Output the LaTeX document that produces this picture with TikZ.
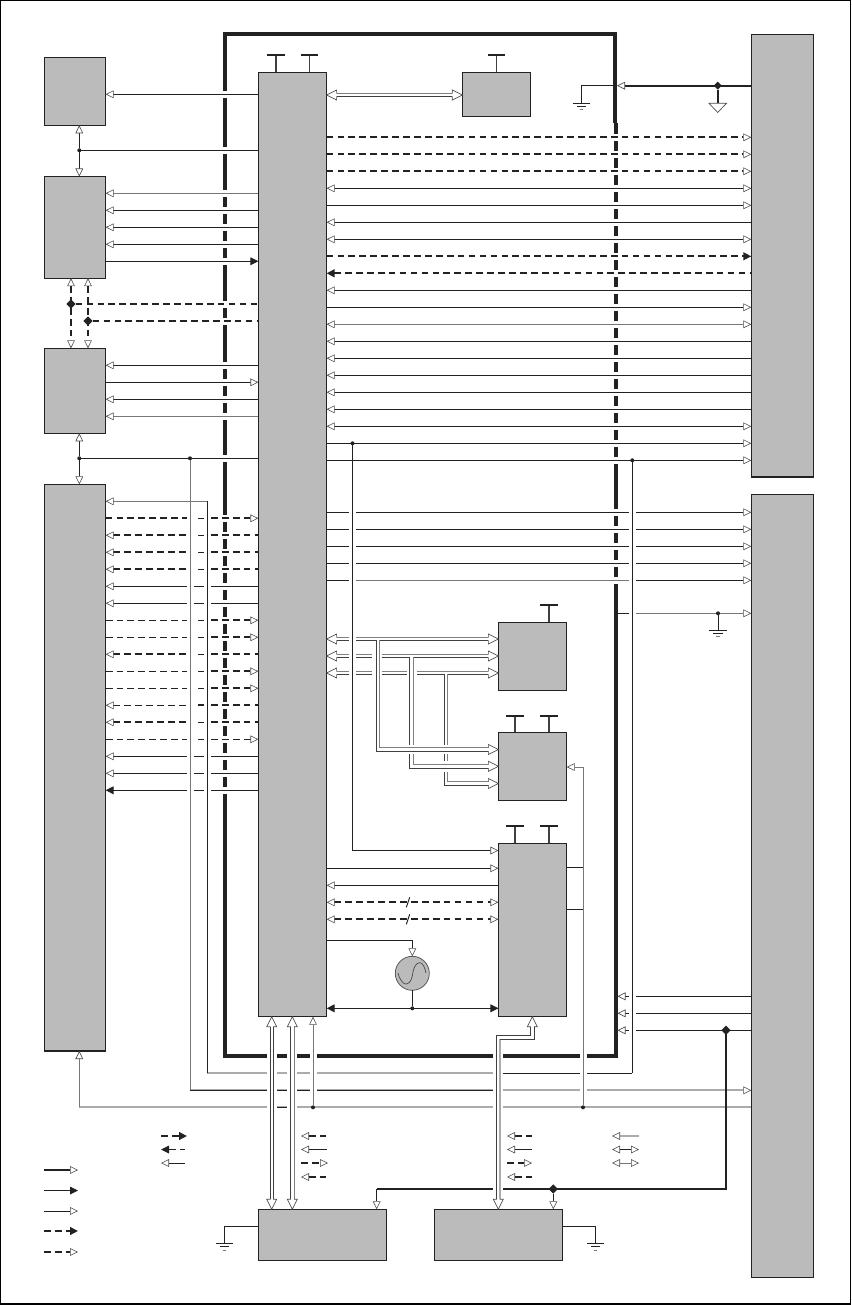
\documentclass[tikz,border=0pt]{standalone}
\usetikzlibrary{arrows.meta,shapes.geometric}
\definecolor{ink}{HTML}{222222}
\definecolor{boxgray}{HTML}{BBBBBB}
\definecolor{midg}{HTML}{777777}
\definecolor{ligg}{HTML}{ABABAB}
\tikzset{
 op/.tip={Triangle[open,fill=white,length=6pt,width=5.8pt,line width=.45pt,color=black!70]},
 fp/.tip={Triangle[length=6pt,width=5.8pt,color=ink]},
 blk/.style={draw=ink,fill=boxgray,line width=.8pt,inner sep=0pt,outer sep=0pt,rectangle},
 sl/.style={draw=ink,line width=.72pt},
 thk/.style={draw=ink,line width=1.5pt},
 gl/.style={draw=midg,line width=.75pt},
 gt/.style={draw=ligg,line width=1.5pt},
 dk/.style={draw=ink,line width=1.5pt,dash pattern=on 5pt off 3.2pt},
 dn/.style={draw=ink,line width=.7pt,dash pattern=on 5.2pt off 3pt},
 frame/.style={draw=ink,line width=3pt,miter limit=10},
 dbd/.style={draw=black!75,line width=.72pt},
 dbg/.style={draw=black!50,line width=.72pt},
 dot/.style={circle,fill=ink,inner sep=0pt,minimum size=3pt,outer sep=0pt},
 diam/.style={diamond,fill=ink,inner sep=0pt,minimum size=7pt,outer sep=0pt},
 knock/.style={fill=white,draw=none},
 bighead/.pic={\fill[white] (0,0)--(-10,5)--(-10,-5)--cycle;
   \draw[draw=black!70,line width=.5pt,line join=miter] (-10,1.7)--(-10,5)--(0,0)--(-10,-5)--(-10,-1.7);}
}
\newcommand\Rrow[3]{\draw[#2,#3] (core.east|-0,#1.3) -- (K.west|-0,#1.3);}
\newcommand\Lrow[4]{\draw[#3,#4] (#2.east|-0,#1.3) -- (core.west|-0,#1.3);}
\newcommand\Srow[2]{\draw[#2,-{op}] (core.east|-0,#1.3) -- (L.west|-0,#1.3);}
\newcommand\Drow[6]{\draw[#2,#5] (D.east|-0,#1.3) -- (187,#1.3);
  \draw[#3] (187,#1.3) -- (211,#1.3);
  \draw[#4,#6] (211,#1.3) -- (core.west|-0,#1.3);}
\newcommand\teebar[4]{\coordinate (#1) at (#3,#4);
  \draw[draw=black!75,line width=1pt] (#2.north-|#1) -- (#1);
  \draw[draw=ink,line width=1pt] ([xshift=-6.4pt]#1) -- ([xshift=6.4pt]#1);}
\newcommand\gnd[1]{\draw[draw=ink,line width=.7pt] ([xshift=-6.4pt]#1) -- ([xshift=6.4pt]#1);
  \draw[draw=ink,line width=.6pt] ([xshift=-3.4pt,yshift=-2.5pt]#1) -- ([xshift=3.4pt,yshift=-2.5pt]#1);
  \draw[draw=midg,line width=.6pt] ([xshift=-1.2pt,yshift=-4.9pt]#1) -- ([xshift=1.2pt,yshift=-4.9pt]#1);}
\newcommand\leg[6]{\coordinate (#1a) at (#2,#4);\coordinate (#1b) at (#3,#4);\draw[#5,#6] (#1a) -- (#1b);}
\newcommand\kn[4]{\fill[knock] (#1,#2) rectangle (#3,#4);}
\newcommand\bx[5]{\node[minimum width=#4*.75pt-#2*.75pt,minimum height=#5*.75pt-#3*.75pt,anchor=north west,blk] (#1) at (#2,#3) {};}
\begin{document}
\begin{tikzpicture}[x=.75pt,y=-.75pt]
\useasboundingbox (0,0) rectangle (851,1305);
\draw[draw=black,line width=1pt] (.6,.6) rectangle (850.5,1304);
% frame
\draw[frame] (616,123) -- (616,1056) -- (224.5,1056) -- (224.5,34.5) -- (615.3,34.5) -- (615.3,123);
\foreach \y in {94,150,193,210,227,244,261,304,321,365,382,399,416,458,518,535,552,569,586,603,620,637,654,671,688,705,722,739,756,773,790}
  \fill[knock] (220,\y+.3-3.5) rectangle (229,\y+.3+3.5);
\foreach \y in {137,154,171,188,205,222,239,256,273,290,307,324,341,358,375,392,409,426,443,460,512,529,546,563,580}
  \fill[knock] (611,\y+.3-3.5) rectangle (621,\y+.3+3.5);
% boxes
\bx{A}{44.3}{57.3}{105.6}{125.3}
\bx{B}{44.3}{176.5}{105.6}{278.2}
\bx{C}{44.3}{348.3}{105.6}{433.3}
\bx{D}{44.3}{484.3}{105.6}{1051}
\bx{core}{258.4}{72.3}{326.6}{1016.7}
\bx{E}{462.3}{72.3}{530.7}{116.7}
\bx{F}{498.4}{622.3}{566.7}{690.3}
\bx{G}{498.4}{732.3}{566.7}{800.3}
\bx{H}{498.4}{843.3}{566.7}{1016.7}
\bx{I}{258.4}{1209.3}{386.7}{1260.3}
\bx{J}{434.3}{1209.3}{562.7}{1260.3}
\bx{K}{751.3}{34.3}{813.3}{477}
\bx{L}{751.3}{494.3}{813.3}{1277.3}
\node[circle,draw=black!65,fill=boxgray,line width=.6pt,minimum size=25.5pt,inner sep=0pt,outer sep=0pt] (osc) at (412.3,973.3) {};
\draw[draw=black!70,line width=.55pt] (398,973) .. controls (400,981) and (404,984.5) .. (406.5,984) .. controls (411,983) and (412,978) .. (413,972) .. controls (414,966) and (417,962.5) .. (420,962.7) .. controls (423,963) and (425,968) .. (426,973);
% tees
\teebar{t1}{core}{276}{55}
\teebar{t2}{core}{309.7}{55}
\teebar{t3}{E}{496.3}{55}
\teebar{t4}{F}{549}{605}
\teebar{t5}{G}{515}{716}
\teebar{t6}{G}{549}{716}
\teebar{t7}{H}{515}{826}
\teebar{t8}{H}{549}{826}
% right top rows
\foreach \y in {137,154,171} {\Rrow{\y}{dk}{-{op}}}
\Rrow{188}{sl}{{op}-{op}}
\Rrow{205}{sl}{-{op}}
\Rrow{222}{sl}{{op}-}
\Rrow{239}{sl}{{op}-{op}}
\Rrow{256}{dk}{-{fp}}
\Rrow{273}{dk}{{fp}-}
\Rrow{290}{sl}{{op}-}
\Rrow{307}{sl}{-{op}}
\Rrow{324}{gl}{{op}-{op}}
\foreach \y in {341,358,375,392,409} {\Rrow{\y}{sl}{{op}-}}
\Rrow{426}{sl}{{op}-{op}}
\Rrow{443}{sl}{-{op}}
\Rrow{460}{sl}{-{op}}
\foreach \y in {512,529,546,563,580} {\Srow{\y}{sl}}
\draw[gl] (355,580.3) -- (629,580.3);
% top ground feed
\coordinate (ftip) at (617,85.7);
\coordinate (g1) at (581.3,103);
\coordinate (g2) at (717.7,103);
\draw[thk,{op}-] (ftip) -- (K.west|-ftip);
\draw[sl] (ftip) -| (g1);
\gnd{g1}
\node[diam,minimum size=6pt] (j717) at (717.7,85.7) {};
\draw[thk] (j717) -- (g2);
\draw[draw=black!70,line width=.5pt,fill=white] (709,103.3) -- (726.5,103.3) -- (717.7,112.5) -- cycle;
% row 613
\coordinate (s613) at (617,613.3);
\coordinate (g3) at (718,630);
\draw[sl] (s613) -- (630,613.3);
\draw[gl,-{op}] (630,613.3) -- (L.west|-s613);
\node[dot] (j613) at (718,613.3) {};
\draw[sl] (j613) -- (g3);
\gnd{g3}
% left rows
\draw[sl,{op}-] (A.east|-0,94.3) -- (core.west|-0,94.3);
\node[dot] (j150) at (79.3,150.3) {};
\draw[sl] (j150) -- (core.west|-j150);
\draw[sl,-{op}] (j150) -- (A.south-|j150);
\draw[sl,-{op}] (j150) -- (B.north-|j150);
\Lrow{193}{B}{gl}{{op}-}
\Lrow{210}{B}{sl}{{op}-}
\Lrow{227}{B}{sl}{{op}-}
\Lrow{244}{B}{sl}{{op}-}
\Lrow{261}{B}{sl}{-{fp}}
\node[diam] (j304) at (71,304) {};
\node[diam] (j321) at (88,321) {};
\draw[dk] (j304) -- (core.west|-j304);
\draw[dk] (j321) -- (core.west|-j321);
\draw[dk,{op}-{op}] (B.south-|j304) -- (C.north-|j304);
\draw[dk,{op}-{op}] (B.south-|j321) -- (C.north-|j321);
\Lrow{365}{C}{sl}{{op}-}
\Lrow{382}{C}{sl}{-{op}}
\Lrow{399}{C}{sl}{{op}-}
\Lrow{416}{C}{gl}{{op}-}
\node[dot] (j458) at (79.3,458.3) {};
\draw[sl] (j458) -- (core.west|-j458);
\draw[sl,-{op}] (j458) -- (C.south-|j458);
\draw[sl,-{op}] (j458) -- (D.north-|j458);
% D rows
\Drow{518}{dk}{dn}{dk}{}{-{op}}
\Drow{535}{dk}{dn}{dk}{{op}-}{}
\Drow{552}{dk}{dn}{dk}{{op}-}{}
\Drow{569}{dk}{dn}{dk}{{op}-}{}
\Drow{586}{sl}{sl}{sl}{{op}-}{}
\Drow{603}{sl}{sl}{sl}{{op}-}{}
\Drow{620}{dn}{dn}{dk}{}{-{op}}
\Drow{637}{dn}{dn}{dk}{}{-{op}}
\Drow{654}{dk}{dn}{dk}{{op}-}{}
\Drow{671}{dn}{dn}{dk}{}{-{op}}
\Drow{688}{dn}{dn}{dk}{}{-{op}}
\Drow{705}{dn}{dk}{dk}{{op}-}{}
\Drow{722}{dk}{dn}{dk}{{op}-}{}
\Drow{739}{dn}{dn}{dn}{}{-{op}}
\Drow{756}{sl}{sl}{sl}{{op}-}{}
\Drow{773}{sl}{sl}{sl}{{op}-}{}
\Drow{790}{sl}{sl}{sl}{{fp}-}{}
% H rows
\draw[sl,-{op}] (core.east|-0,868.3) -- (H.west|-0,868.3);
\draw[sl,{op}-] (core.east|-0,885.3) -- (H.west|-0,885.3);
\draw[dk,{op}-{op}] (core.east|-0,902.3) -- (H.west|-0,902.3);
\draw[dk,{op}-{op}] (core.east|-0,919.3) -- (H.west|-0,919.3);
\coordinate (s1a) at (406.3,907.3);\coordinate (s1b) at (409.7,897.3);
\coordinate (s2a) at (406.3,924.3);\coordinate (s2b) at (409.7,914.3);
\draw[sl] (s1a) -- (s1b);
\draw[sl] (s2a) -- (s2b);
\draw[sl,-{op}] (core.east|-0,940.5) -| (osc.north);
\node[dot] (j412) at (412.3,1008.3) {};
\draw[sl,{fp}-{fp}] (core.east|-j412) -- (H.west|-j412);
\draw[sl] (osc.south) -- (j412);
% right lower tips
\coordinate (fr) at (617.5,0);
\draw[sl,{op}-] (fr|-0,996.3) -- (L.west|-0,996.3);
\draw[sl,{op}-] (fr|-0,1013.3) -- (L.west|-0,1013.3);
\draw[sl,{op}-] (fr|-0,1030.3) -- (L.west|-0,1030.3);
% double rows core-E and core-F
\draw[dbg] (335,93.3) -- (453,93.3);
\draw[dbd] (335,96.3) -- (453,96.3);
\draw[dbg] (335,637.3) -- (489,637.3);
\draw[dbd] (335,640.3) -- (376,640.3);
\draw[dbd] (379,640.3) -- (489,640.3);
\draw[dbg] (335,654.3) -- (489,654.3);
\draw[dbd] (335,657.3) -- (409.3,657.3);
\draw[dbd] (413,657.3) -- (489,657.3);
\draw[dbg] (335,671.3) -- (489,671.3);
\draw[dbd] (335,674.3) -- (444,674.3);
\draw[dbd] (447.3,674.3) -- (489,674.3);
% bottom long lines
\coordinate (c207) at (207.3,1073.3);
\coordinate (c190) at (190,1090.3);
\coordinate (c79) at (79.3,1107.3);
\draw[sl] (c207) -- (632.3,1073.3);
\draw[gt] (c207) -- (493,1073.3);
\draw[gt,-{op}] (c190) -- (L.west|-c190);
\draw[sl] (c190) -- (493,1090.3);
\draw[gt] (c79) -- (L.west|-c79);
\draw[sl] (277,1107.3) -- (287,1107.3);
% thick line to bottom boxes
\coordinate (c376) at (376.7,1189);
\coordinate (j726c) at (726,1030.3);
\draw[thk] (j726c) |- (c376);
% knock-outs behind crossing verticals
\kn{187}{462}{194}{1085}
\kn{204}{505}{211}{1068}
\kn{348.7}{465}{355.7}{846}
\kn{629}{465}{636}{1068}
\kn{267}{1050}{277}{1112}
\kn{287}{1050}{297}{1112}
\kn{493}{1050}{503}{1112}
\kn{309.5}{1050}{316.5}{1098}
\kn{580}{1050}{587}{1098}
\kn{493}{1183}{503}{1194}
\kn{372}{651}{382}{661}
\kn{372}{668}{382}{678}
\kn{406.7}{668}{416.7}{678}
% junctions
\node[dot] (j632) at (632.3,460.3) {};
\node[dot] (j190) at (190,458.3) {};
\node[dot] (j353) at (352.5,443.3) {};
\node[dot] (j313) at (313,1107.3) {};
\node[dot] (j583) at (583,1107.3) {};
\node[diam] (j726) at (j726c) {};
\node[diam] (j553) at (553.3,1189) {};
% verticals
\draw[gl] (j190) -- (c190);
\draw[sl,-{op}] (j353) |- (H.west|-0,850.5);
\draw[sl] (j632) -- (j632|-c207);
\draw[sl] (c207) -- (207.3,501.3);
\draw[gl,{op}-] (D.east|-0,501.3) -- (207.3,501.3);
\draw[gl,-{op}] (c79) -- (D.south-|c79);
\draw[gl,-{op}] (j313) -- (core.south-|j313);
\coordinate (c583) at (583,767);
\draw[gl,{op}-] (G.east|-c583) -- (c583) -- (j583);
\draw[sl] (H.east|-0,867.5) -- (583,867.5);
\draw[sl] (H.east|-0,909.5) -- (583,909.5);
\draw[sl,-{op}] (c376) -- (I.north-|c376);
\draw[sl,-{op}] (j553) -- (J.north-|j553);
% ground leads
\coordinate (g4) at (224.5,1243.5);
\coordinate (g5) at (595.7,1243.5);
\draw[sl] (I.west|-0,1226.3) -| (g4);
\draw[sl] (J.east|-0,1226.3) -| (g5);
\gnd{g4}
\gnd{g5}
% double branches
\draw[dbd] (444,674.3) -- (444,785.3) -- (489,785.3);
\draw[dbg] (447.3,674.3) -- (447.3,781.7) -- (489,781.7);
\kn{441}{761}{450}{772}
\draw[dbd] (409.3,657.3) -- (409.3,768.3) -- (489,768.3);
\draw[dbg] (413,657.3) -- (413,764.3) -- (489,764.3);
\kn{406}{745}{416}{754}
\kn{441}{745}{450}{754}
\draw[dbd] (376,640.3) -- (376,751.3) -- (489,751.3);
\draw[dbg] (379,640.3) -- (379,747.7) -- (489,747.7);
% double verticals at the bottom
\draw[dbd] (270,1025) -- (270,1200);
\draw[dbd] (273.3,1025) -- (273.3,1200);
\draw[dbd] (290.5,1025) -- (290.5,1200);
\draw[dbg] (294,1025) -- (294,1200);
\draw[dbd] (496.7,1200) -- (496.7,1035.7) -- (530.6,1035.7) -- (530.6,1026);
\draw[draw=ligg,line width=1.2pt] (500,1200) -- (500,1039.3);
\draw[dbd] (500,1039.3) -- (534,1039.3) -- (534,1026);
% big heads
\pic[rotate=180] at (core.east|-0,95) {bighead};
\pic at (E.west|-0,95) {bighead};
\foreach \y in {639,656,673}{
  \pic[rotate=180] at (core.east|-0,\y) {bighead};
  \pic at (F.west|-0,\y) {bighead};}
\pic at (G.west|-0,749.5) {bighead};
\pic at (G.west|-0,766.3) {bighead};
\pic at (G.west|-0,783.5) {bighead};
\pic[rotate=90] at (271.7,1016.7) {bighead};
\pic[rotate=-90] at (271.7,1209.3) {bighead};
\pic[rotate=90] at (292.3,1016.7) {bighead};
\pic[rotate=-90] at (292.3,1209.3) {bighead};
\pic[rotate=-90] at (498.3,1209.3) {bighead};
\pic[rotate=90] at (532.3,1016.7) {bighead};
% legend
\leg{la}{44}{78}{1170}{thk}{-{op}}
\leg{lb}{44}{78}{1190.5}{sl}{-{fp}}
\leg{lc}{44}{78}{1211}{sl}{-{op}}
\leg{ld}{44}{78}{1231}{dk}{-{fp}}
\leg{le}{44}{78}{1252}{dk}{-{op}}
\leg{lf}{161}{187}{1136}{dk}{-{fp}}
\leg{lg}{161}{185}{1149.5}{dn}{{fp}-}
\leg{lh}{161}{185}{1163}{sl}{{op}-}
\leg{li}{301}{326}{1136}{dk}{{op}-}
\leg{lj}{301}{327}{1149.5}{sl}{{op}-}
\leg{lk}{301}{328}{1163}{dk}{-{op}}
\leg{ll}{301}{328}{1177}{dk}{{op}-}
\leg{lm}{507}{532}{1136}{dk}{{op}-}
\leg{ln}{507}{532}{1149.5}{sl}{{op}-}
\leg{lo}{507}{532}{1163}{dk}{-{op}}
\leg{lp}{507}{532}{1177}{dk}{{op}-}
\leg{lq}{612}{639}{1136}{gt}{{op}-}
\leg{lr}{612}{639}{1149.5}{sl}{{op}-{op}}
\leg{ls}{612}{639}{1163}{gl}{{op}-{op}}
\end{tikzpicture}
\end{document}
